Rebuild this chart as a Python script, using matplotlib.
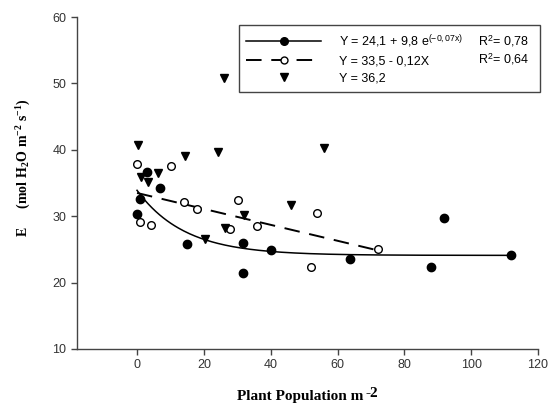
import matplotlib
matplotlib.use('Agg')
import matplotlib.pyplot as plt
import numpy as np
from matplotlib.lines import Line2D

plt.rcParams['font.family'] = 'Liberation Sans'
plt.rcParams['mathtext.fontset'] = 'custom'
plt.rcParams['mathtext.rm'] = 'Liberation Serif:bold'
plt.rcParams['mathtext.bf'] = 'Liberation Serif:bold'
plt.rcParams['mathtext.it'] = 'Liberation Serif:bold'
plt.rcParams['mathtext.sf'] = 'Liberation Sans'

# filled circles (exponential fit)
x_fill = [0, 0.9, 2.9, 6.9, 15, 31.7, 31.7, 40, 63.7, 87.9, 91.9, 111.8]
y_fill = [30.4, 32.6, 36.7, 34.3, 25.8, 26.0, 21.5, 24.9, 23.5, 22.3, 29.8, 24.1]

# open circles (linear fit)
x_open = [0, 10.2, 0.9, 4.1, 14.2, 17.9, 30.1, 27.8, 36, 53.9, 52, 72]
y_open = [37.8, 37.6, 29.2, 28.7, 32.2, 31.1, 32.5, 28.0, 28.5, 30.5, 22.4, 25.0]

# triangles (mean)
x_tri = [0.2, 14.4, 24.1, 56, 6.2, 1.2, 3.4, 32.1, 46.1, 26.3, 20.3, 26.1]
y_tri = [40.7, 39.0, 39.6, 40.3, 36.5, 35.9, 35.1, 30.2, 31.7, 28.2, 26.5, 50.8]

# fitted models from the legend
exp_a, exp_b, exp_k = 24.1, 9.8, -0.07
lin_a, lin_b = 33.5, -0.12
exp_xmax = 111.8
lin_xmax = 72

fig = plt.figure(figsize=(5.49, 4.09), dpi=100)
ax = fig.add_axes([0.140, 0.1467, 0.840, 0.8117])

xs = np.linspace(0, exp_xmax, 200)
ax.plot(xs, exp_a + exp_b * np.exp(exp_k * xs), color='black', lw=1.1, zorder=2)
xl = np.array([0, lin_xmax])
ax.plot(xl, lin_a + lin_b * xl, color='black', lw=1.4, dashes=(8, 5), zorder=2)

ax.plot(x_fill, y_fill, 'o', color='black', ms=6, zorder=3)
ax.plot(x_open, y_open, 'o', mfc='white', mec='black', mew=1.0, ms=5.5, zorder=3)
ax.plot(x_tri, y_tri, 'v', color='black', ms=6, zorder=3)

ax.set_xlim(-18, 120)
ax.set_ylim(10, 60)
ax.set_xticks([0, 20, 40, 60, 80, 100, 120])
ax.set_yticks([10, 20, 30, 40, 50, 60])
for s in ['top', 'right']:
    ax.spines[s].set_visible(False)
for s in ['left', 'bottom']:
    ax.spines[s].set_color('#444444')
    ax.spines[s].set_linewidth(1.0)
ax.tick_params(direction='out', length=4, width=1, color='#444444',
               labelsize=9, labelcolor='#333333')

# x label with a large superscript
xlab = ax.set_xlabel('Plant Population m', fontsize=11, family='Liberation Serif',
                     fontweight='bold')
ax.xaxis.set_label_coords(0.485, -0.125)
ax.annotate('-2', xy=(1, 0.5), xycoords=xlab, xytext=(1, 0), textcoords='offset points',
            fontsize=11, family='Liberation Serif', fontweight='bold',
            va='baseline', ha='left')

ax.set_ylabel('$\\mathrm{E}\\quad\\ \\ \\mathrm{(mol\\ H_2O\\ m^{-2}\\ s^{-1})}$', fontsize=10)
ax.yaxis.set_label_coords(-0.096, 0.545)

h1 = Line2D([], [], color='black', lw=1.1, marker='o', ms=5.5)
h2 = Line2D([], [], color='black', lw=1.4, dashes=(8, 5), marker='o', mfc='white', mec='black', ms=5)
h3 = Line2D([], [], color='black', lw=0, marker='v', ms=5.5)
labels = ['Y = 24,1 + 9,8 e$^{\\mathsf{(-0,07x)}}$', 'Y = 33,5 - 0,12X', 'Y = 36,2']
leg = ax.legend([h1, h2, h3], labels, loc='upper left', mode='expand',
                bbox_to_anchor=(0.351, 0.774, 0.653, 0.202), borderaxespad=0,
                fontsize=9, handlelength=6.0, handletextpad=1.4, numpoints=1,
                labelspacing=0.45, borderpad=0.6, fancybox=False, framealpha=1)
leg.get_frame().set_edgecolor('#444444')
leg.get_frame().set_linewidth(1.0)
leg.set_zorder(5)

ax.text(0.870, 0.928, 'R$^{\\mathsf{2}}$= 0,78', transform=ax.transAxes, fontsize=9,
        va='center', zorder=10)
ax.text(0.870, 0.873, 'R$^{\\mathsf{2}}$= 0,64', transform=ax.transAxes, fontsize=9,
        va='center', zorder=10)

fig.savefig('out.png', dpi=100)
